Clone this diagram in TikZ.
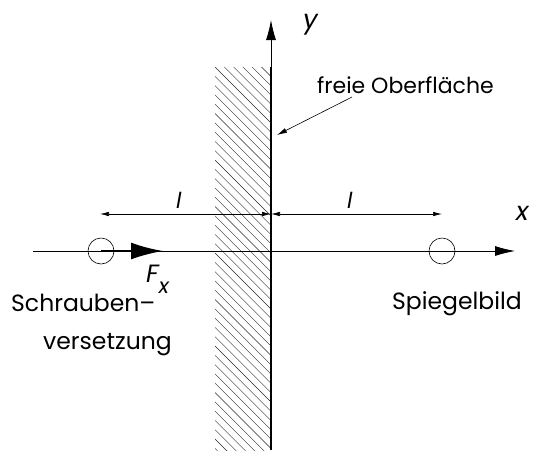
\documentclass[tikz,border=0pt]{standalone}
\usepackage{fontspec}
\setmainfont{Poppins}
\usetikzlibrary{arrows.meta}

\tikzset{
  lbl/.style={inner sep=0pt, anchor=base west, font=\fontsize{23.5}{25}\selectfont},
  axlbl/.style={inner sep=0pt, anchor=base west, font=\fontsize{26}{28}\selectfont\itshape},
  dimlbl/.style={inner sep=0pt, anchor=base west, font=\fontsize{22}{24}\selectfont\itshape},
  dim/.style={{Latex[length=9pt,width=4.5pt]}-{Latex[length=9pt,width=4.5pt]}, line width=0.6pt},
  axis/.style={-{Latex[length=20pt,width=10pt]}, line width=0.8pt},
  disloc/.style={draw, circle, minimum size=26pt, inner sep=0pt, line width=0.6pt}
}

\begin{document}
\begin{tikzpicture}[x=1pt,y=-1pt]
\useasboundingbox (0,0) rectangle (533,459);

% Wand mit Schraffur
\begin{scope}
  \clip (215,67) rectangle (271,450);
  \foreach \k in {-8,...,45}
    \draw[line width=0.4pt, black!85] (215,67+9.3*\k) -- ++(60,60);
\end{scope}
\coordinate (wtop) at (271,67);
\coordinate (wbot) at (271,450);
\coordinate (ytip) at (271,20);
\coordinate (xstart) at (33,251);
\coordinate (xtip) at (515,251);
\draw[line width=2pt] (wbot) -- (wtop);
\draw[axis] (wtop) -- (ytip);
\draw[axis] (xstart) -- (xtip);

% Versetzung und Spiegelbild
\node[disloc] (S) at (101,251) {};
\node[disloc] (B) at (442,251) {};
\coordinate (Ftip) at (163,251);
\draw[line width=2.2pt, -{Latex[length=32pt,width=17pt]}] (S.center) -- (Ftip);

% Abstaende
\coordinate (wmid) at (271,214);
\coordinate (dl) at (100,214);
\coordinate (dr) at (442,214);
\draw[dim] (dl) -- (wmid);
\draw[dim] (wmid) -- (dr);

% freie Oberflaeche
\node[lbl, font=\fontsize{22}{24}\selectfont] (surf) at (317,93) {freie Oberfläche};
\coordinate (surfpt) at (277,135);
\draw[-{Latex[length=10pt,width=5pt]}, line width=0.6pt] (352,97) -- (surfpt);

% Beschriftungen
\node[axlbl] (ylab) at (303,28) {y};
\node[axlbl] (xlab) at (516,220) {x};
\node[dimlbl] (l1) at (176,208) {l};
\node[dimlbl] (l2) at (347,208) {l};
\node[dimlbl, font=\fontsize{25}{27}\selectfont\itshape] (Fx) at (146,282) {F\raisebox{-0.45em}{\fontsize{21}{23}\selectfont x}};
\node[lbl] (schr) at (11,311) {Schrauben–};
\node[lbl] (vers) at (43,349) {versetzung};
\node[lbl] (spieg) at (392,309) {Spiegelbild};
\end{tikzpicture}
\end{document}
